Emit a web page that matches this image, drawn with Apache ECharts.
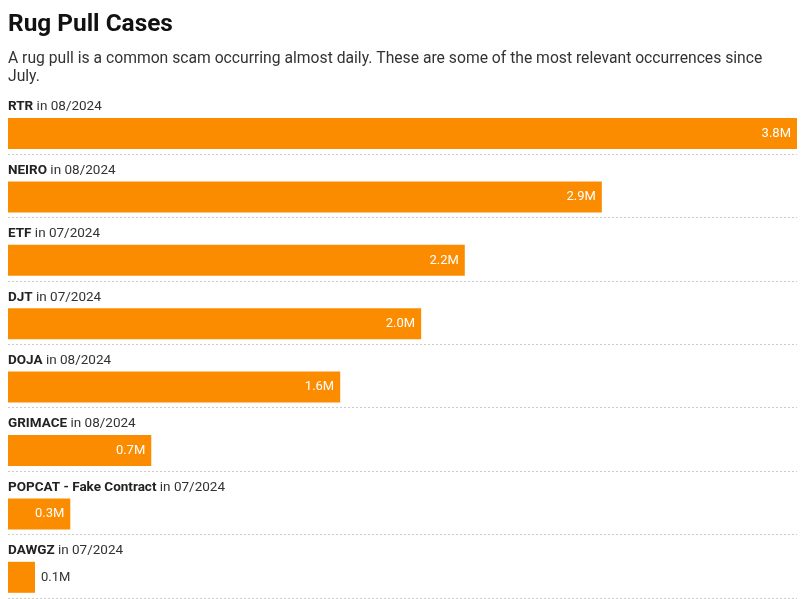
<!DOCTYPE html>
<html>
<head>
<meta charset="utf-8">
<script src="https://cdn.jsdelivr.net/npm/echarts@6/dist/echarts.min.js"></script>
<style>
  html, body { margin: 0; padding: 0; background: #fff; }
  #main { width: 805px; height: 599px; }
</style>
</head>
<body>
<div id="main"></div>
<script>
// 初始化图表
var chart = echarts.init(document.getElementById('main'));

const names = ['RTR', 'NEIRO', 'ETF', 'DJT', 'DOJA', 'GRIMACE', 'POPCAT - Fake Contract', 'DAWGZ'];
const dates = ['08/2024', '08/2024', '07/2024', '07/2024', '08/2024', '08/2024', '07/2024', '07/2024'];
const values = [3.8, 2.86, 2.2, 1.99, 1.6, 0.69, 0.3, 0.13];

const orange = '#fb8c00';

// 太短的条，数值放到外面
const barData = values.map(function (v) {
    if (v < 0.2) {
        return { value: v, label: { position: 'right', color: '#333' } };
    }
    return v;
});

var option = {
    animation: false,
    title: {
        left: 8,
        top: 13,
        padding: 0,
        text: 'Rug Pull Cases',
        textStyle: {
            fontFamily: 'Roboto',
            fontSize: 24.4,
            fontWeight: 'bold',
            color: '#111'
        },
        subtext: 'A rug pull is a common scam occurring almost daily. These are some of the most relevant occurrences since\nJuly.',
        subtextStyle: {
            fontFamily: 'Roboto',
            fontSize: 15.7,
            lineHeight: 18,
            color: '#333'
        },
        itemGap: 13
    },
    grid: {
        left: 8,
        right: 8,
        top: 90.6,
        bottom: 1.2,
        containLabel: false
    },
    xAxis: {
        type: 'value',
        min: 0,
        max: 3.8,
        show: false
    },
    yAxis: {
        type: 'category',
        inverse: true,
        data: names,
        axisLine: { show: false },
        axisTick: { show: false },
        axisLabel: { show: false },
        splitLine: {
            show: true,
            interval: 0,
            showMinLine: false,
            lineStyle: { color: '#cccccc', type: [2, 2], width: 1 }
        }
    },
    series: [
        {
            // 只用来放名称
            name: 'label',
            type: 'bar',
            barWidth: 19,
            barGap: '18%',
            silent: true,
            itemStyle: { color: 'rgba(0,0,0,0)' },
            label: {
                show: true,
                position: 'insideLeft',
                distance: 0,
                offset: [0, 2],
                formatter: function (p) {
                    return '{b|' + names[p.dataIndex] + '}{n| in ' + dates[p.dataIndex] + '}';
                },
                rich: {
                    b: { fontFamily: 'Roboto', fontSize: 13.5, fontWeight: 'bold', color: '#222' },
                    n: { fontFamily: 'Roboto', fontSize: 13.5, color: '#333' }
                }
            },
            data: values
        },
        {
            name: 'value',
            type: 'bar',
            barWidth: 31,
            barGap: '18%',
            itemStyle: { color: orange },
            emphasis: { disabled: true },
            label: {
                show: true,
                position: 'insideRight',
                distance: 6,
                fontFamily: 'Roboto',
                fontSize: 13,
                color: '#fff',
                formatter: function (p) {
                    return p.value.toFixed(1) + 'M';
                }
            },
            data: barData
        }
    ]
};

chart.setOption(option);

window.addEventListener('resize', function () {
    chart.resize();
});
</script>
</body>
</html>
